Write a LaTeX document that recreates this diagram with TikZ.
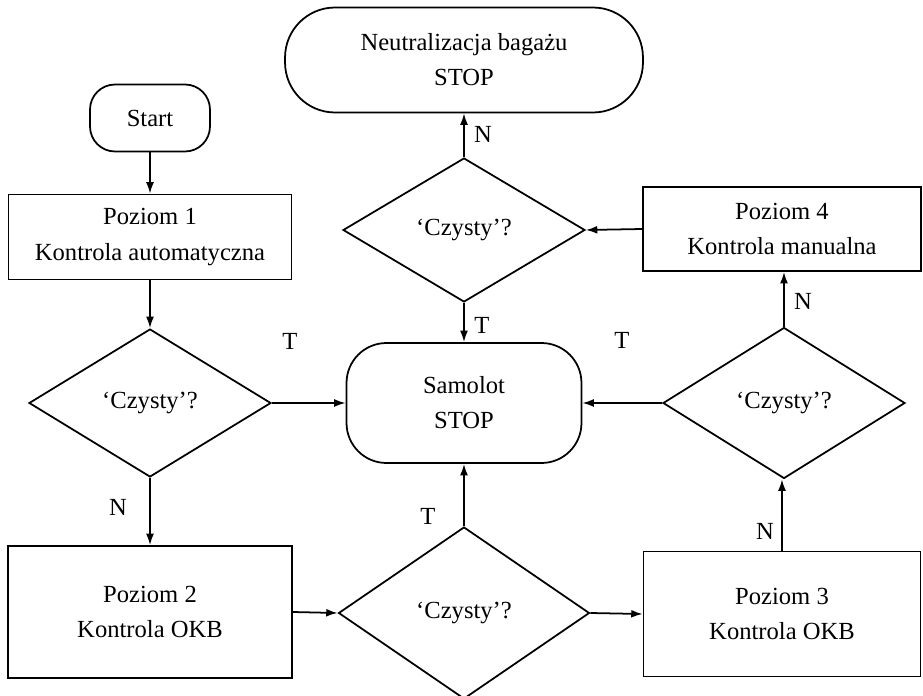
\documentclass[tikz,border=0pt]{standalone}
\usepackage{fontspec}
\setmainfont{Liberation Serif}
\usepackage{tikz}
\usetikzlibrary{shapes, arrows, arrows.meta, positioning, calc, shapes.geometric}

\tikzset{
  base/.style={draw, line width=1pt, align=center, inner sep=0pt,
    font=\fontsize{14pt}{20pt}\selectfont},
  terminal/.style={base, rectangle, rounded corners=#1},
  process/.style={base, rectangle},
  decision/.style={base, diamond},
  flow/.style={-{Latex[length=6.5pt, width=4.5pt]}, line width=1pt},
  answer/.style={font=\fontsize{14pt}{20pt}\selectfont, inner sep=0pt}
}

\begin{document}
\begin{tikzpicture}[x=0.02cm, y=-0.02cm]
\useasboundingbox (0,0) rectangle (923,696);

% Terminals
\node[terminal=0.5cm, minimum width=2.4cm, minimum height=1.34cm] (start) at (150,118) {Start};
\node[terminal=1cm, minimum width=7.16cm, minimum height=2.1cm] (neut) at (464,60) {Neutralizacja bagażu\\STOP};
\node[terminal=0.8cm, minimum width=4.7cm, minimum height=2.4cm] (plane) at (464,403) {Samolot\\STOP};

% Control levels
\node[process, minimum width=5.66cm, minimum height=1.7cm] (lvl1) at (150,237) {Poziom 1\\Kontrola automatyczna};
\node[process, minimum width=5.68cm, minimum height=2.64cm] (lvl2) at (150,612) {Poziom 2\\Kontrola OKB};
\node[process, minimum width=5.54cm, minimum height=2.5cm] (lvl3) at (782,614) {Poziom 3\\Kontrola OKB};
\node[process, minimum width=5.56cm, minimum height=1.68cm] (lvl4) at (782,229) {Poziom 4\\Kontrola manualna};

% Decisions
\node[decision, minimum width=4.84cm, minimum height=2.96cm] (chk1) at (150,403) {‘Czysty’?};
\node[decision, minimum width=5.02cm, minimum height=3.44cm] (chk2) at (464,613) {‘Czysty’?};
\node[decision, minimum width=4.84cm, minimum height=3.02cm] (chk3) at (784,403) {‘Czysty’?};
\node[decision, minimum width=4.84cm, minimum height=2.88cm] (chk4) at (464,230) {‘Czysty’?};

% Answers
\node[answer] (t1) at (290,341) {T};
\node[answer] (n1) at (118,507) {N};
\node[answer] (t2) at (428,516) {T};
\node[answer] (n3) at (765,531) {N};
\node[answer] (t3) at (622,340) {T};
\node[answer] (n4) at (803,301) {N};
\node[answer] (t4) at (482,325) {T};
\node[answer] (n5) at (483,134) {N};

% Connectors
\draw[flow] (start) -- (lvl1);
\draw[flow] (lvl1) -- (chk1);
\draw[flow] (chk1.east) -- (plane.west);
\draw[flow] (chk1.south) -- (lvl2.north);
\draw[flow] (lvl2.east) -- (chk2.west);
\draw[flow] (chk2.north) -- (plane.south);
\draw[flow] (chk2.east) -- (lvl3.west);
\draw[flow] (lvl3.north) -- (lvl3.north |- chk3.south);
\draw[flow] (chk3.west) -- (plane.east);
\draw[flow] (chk3.north) -- (chk3.north |- lvl4.south);
\draw[flow] (lvl4.west) -- (chk4.east);
\draw[flow] (chk4.south) -- (plane.north);
\draw[flow] (chk4.north) -- (neut.south);

\end{tikzpicture}
\end{document}
